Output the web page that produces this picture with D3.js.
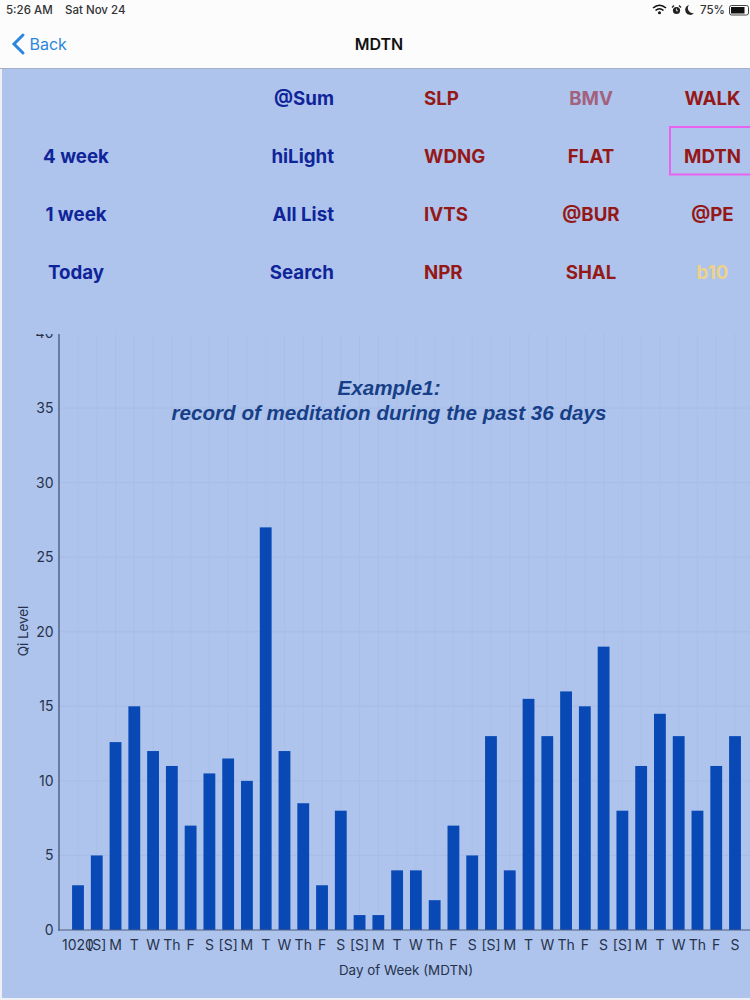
<!DOCTYPE html>
<html>
<head>
<meta charset="utf-8">
<script src="https://cdn.jsdelivr.net/npm/d3@7"></script>
<style>
  html, body { margin: 0; padding: 0; background: #fff; }
  svg { display: block; }
  text { font-family: Inter, "Noto Sans", sans-serif; }
</style>
</head>
<body>
<div id="chart"></div>
<script>
// Values
const dayLabels = ['1020', '[S]', 'M', 'T', 'W', 'Th', 'F', 'S',
    '[S]', 'M', 'T', 'W', 'Th', 'F', 'S',
    '[S]', 'M', 'T', 'W', 'Th', 'F', 'S',
    '[S]', 'M', 'T', 'W', 'Th', 'F', 'S',
    '[S]', 'M', 'T', 'W', 'Th', 'F', 'S'];
const qiValues = [3, 5, 12.6, 15, 12, 11, 7, 10.5,
    11.5, 10, 27, 12, 8.5, 3, 8,
    1, 1, 4, 4, 2, 7, 5,
    13, 4, 15.5, 13, 16, 15, 19,
    8, 11, 14.5, 13, 8, 11, 13];
const yTicks = [0, 5, 10, 15, 20, 25, 30, 35, 40];
const titleLines = ['Example1:', 'record of meditation during the past 36 days'];

const rangeLabels = ['', '4 week', '1 week', 'Today'];
const toolLabels = ['@Sum', 'hiLight', 'All List', 'Search'];
const typeLabelsA = ['SLP', 'WDNG', 'IVTS', 'NPR'];
const typeLabelsB = ['BMV', 'FLAT', '@BUR', 'SHAL'];
const typeLabelsC = ['WALK', 'MDTN', '@PE', 'b10'];

const width = 750, height = 1000;
const svg = d3.select('#chart').append('svg')
    .attr('width', width)
    .attr('height', height)
    .attr('viewBox', [0, 0, width, height]);

// Page background
svg.append('rect').attr('width', width).attr('height', height).attr('fill', '#eef0f6');
svg.append('rect').attr('width', width).attr('height', 68).attr('fill', '#fcfcfd');
svg.append('rect').attr('x', 2).attr('y', 69).attr('width', width - 2).attr('height', 929).attr('fill', '#aec4ec');
svg.append('line').attr('x1', 0).attr('x2', width).attr('y1', 68.5).attr('y2', 68.5).attr('stroke', '#a3b0c8');

// Status bar
const status = svg.append('g').attr('fill', '#333').style('font-size', '11.5px').style('font-weight', 500);
status.append('text').attr('x', 6).attr('y', 14).text('5:26 AM');
status.append('text').attr('x', 65).attr('y', 14).text('Sat Nov 24');
status.append('text').attr('x', 700).attr('y', 14).text('75%');

const wifi = svg.append('g').attr('fill', 'none').attr('stroke', '#111').attr('stroke-width', 1.6);
wifi.append('path').attr('d', 'M653 8 Q659.5 2.5 666 8');
wifi.append('path').attr('d', 'M655.5 10.5 Q659.5 7 663.5 10.5');
svg.append('circle').attr('cx', 659.5).attr('cy', 12.8).attr('r', 1.5).attr('fill', '#111');
// alarm clock
svg.append('circle').attr('cx', 676.5).attr('cy', 10.5).attr('r', 3.6).attr('fill', '#222');
svg.append('path').attr('d', 'M672 7.5 L674 5.5 M681 7.5 L679 5.5').attr('stroke', '#222').attr('stroke-width', 1.4);
svg.append('path').attr('d', 'M676.5 8.5 V10.8 H678').attr('fill', 'none').attr('stroke', '#fff').attr('stroke-width', 0.8);
// moon
svg.append('path').attr('d', 'M689 5 A5 5 0 1 0 694 13 A5 5 0 0 1 689 5').attr('fill', '#222');
// battery
svg.append('rect').attr('x', 729.5).attr('y', 5.5).attr('width', 19).attr('height', 9.5).attr('rx', 2)
    .attr('fill', 'none').attr('stroke', '#444');
svg.append('rect').attr('x', 731).attr('y', 7).attr('width', 13.5).attr('height', 6.5).attr('fill', '#111');

// Nav bar
svg.append('path').attr('d', 'M23 35 L14 44 L23 53')
    .attr('fill', 'none').attr('stroke', '#2b86e0').attr('stroke-width', 3).attr('stroke-linecap', 'round');
svg.append('text').attr('x', 29.5).attr('y', 50).attr('fill', '#2b86e0').style('font-size', '16px').text('Back');
svg.append('text').attr('x', 379).attr('y', 50).attr('text-anchor', 'middle').attr('fill', '#111')
    .style('font-size', '16px').style('font-weight', 600).text('MDTN');

// Button grid
const rowY = d3.scalePoint().domain(d3.range(4)).range([98, 272]);
const buttonFont = '18.7px';
const blue = '#10249a', red = '#951818';

function addColumn(labels, x, anchor, color) {
    svg.append('g').selectAll('text')
        .data(labels)
        .enter()
        .append('text')
        .attr('x', x)
        .attr('y', (d, i) => rowY(i) + 6.5)
        .attr('text-anchor', anchor)
        .attr('fill', d => d === 'BMV' ? '#a2617c' : d === 'b10' ? '#ecd28a' : color)
        .style('font-size', buttonFont)
        .style('font-weight', 700)
        .text(d => d);
}
addColumn(rangeLabels, 76, 'middle', blue);
addColumn(toolLabels, 334, 'end', blue);
addColumn(typeLabelsA, 424, 'start', red);
addColumn(typeLabelsB, 591, 'middle', red);
addColumn(typeLabelsC, 712.5, 'middle', red);

// Selected button frame
svg.append('rect').attr('x', 670).attr('y', 127).attr('width', 90).attr('height', 47.5)
    .attr('fill', 'none').attr('stroke', '#e963f0').attr('stroke-width', 2);

// Scales
const x = d3.scaleBand()
    .domain(d3.range(qiValues.length))
    .range([68.6, 744.4])
    .paddingInner(0.37)
    .paddingOuter(0.185);
const y = d3.scaleLinear().domain([0, 40]).range([930, 333.5]);

svg.append('clipPath').attr('id', 'plot-clip')
    .append('rect').attr('x', 0).attr('y', 334).attr('width', width).attr('height', 666);
const chart = svg.append('g').attr('clip-path', 'url(#plot-clip)');

// Grid
chart.append('g').selectAll('line')
    .data(yTicks.slice(1))
    .enter()
    .append('line')
    .attr('x1', 58)
    .attr('x2', 750)
    .attr('y1', d => y(d))
    .attr('y2', d => y(d))
    .attr('stroke', '#a6bbe3')
    .attr('stroke-width', 0.8);
chart.append('g').selectAll('line')
    .data(d3.range(qiValues.length))
    .enter()
    .append('line')
    .attr('x1', d => x(d) + x.bandwidth() / 2)
    .attr('x2', d => x(d) + x.bandwidth() / 2)
    .attr('y1', y(40))
    .attr('y2', y(0))
    .attr('stroke', '#a8bde6')
    .attr('stroke-width', 0.7);

// Bars
chart.append('g').selectAll('rect')
    .data(qiValues)
    .enter()
    .append('rect')
    .attr('x', (d, i) => x(i))
    .attr('y', d => y(d))
    .attr('width', x.bandwidth())
    .attr('height', d => y(0) - y(d))
    .attr('fill', '#0849b6');

// Y axis
const yAxis = chart.append('g')
    .attr('transform', 'translate(58.5,0)')
    .call(d3.axisLeft(y).tickValues(yTicks).tickSize(0).tickPadding(5));
yAxis.select('.domain').attr('stroke', '#4c5f80').attr('stroke-width', 1.4);
yAxis.selectAll('text').attr('fill', '#26324c').style('font-size', '14px').style('font-family', 'Inter, sans-serif');

// X axis
const xAxis = chart.append('g')
    .attr('transform', `translate(0,${y(0)})`)
    .call(d3.axisBottom(x).tickFormat(i => dayLabels[i]).tickSize(0).tickPadding(10));
xAxis.select('.domain').remove();
xAxis.selectAll('text').attr('fill', '#26324c').style('font-size', '14px').style('font-family', 'Inter, sans-serif');
chart.append('line')
    .attr('x1', 58)
    .attr('x2', 750)
    .attr('y1', y(0))
    .attr('y2', y(0))
    .attr('stroke', '#4c5f80')
    .attr('stroke-width', 1.2);

// Axis titles
svg.append('text').attr('x', 406).attr('y', 975).attr('text-anchor', 'middle').attr('fill', '#26324c')
    .style('font-size', '13.4px').text('Day of Week (MDTN)');
svg.append('text').attr('transform', 'translate(27.5,631) rotate(-90)').attr('text-anchor', 'middle')
    .attr('fill', '#26324c').style('font-size', '13.4px').text('Qi Level');

// Chart title
svg.append('g').selectAll('text')
    .data(titleLines)
    .enter()
    .append('text')
    .attr('x', 389)
    .attr('y', (d, i) => 395 + i * 25)
    .attr('text-anchor', 'middle')
    .attr('fill', '#173f88')
    .style('font-family', '"Liberation Sans", sans-serif')
    .style('font-size', '20.6px')
    .style('font-weight', 700)
    .style('font-style', 'italic')
    .text(d => d);
</script>
</body>
</html>
